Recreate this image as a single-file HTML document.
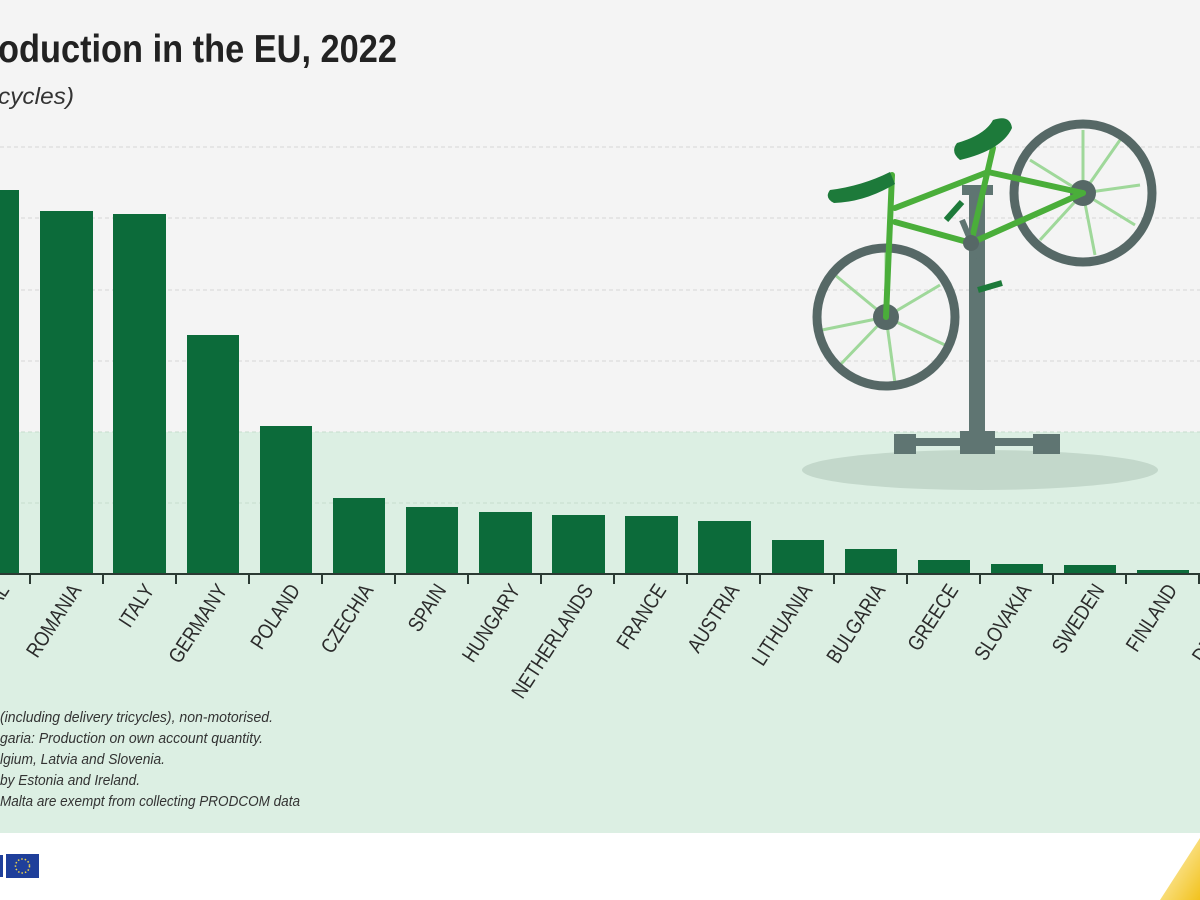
<!DOCTYPE html>
<html><head><meta charset="utf-8"><style>
html,body{margin:0;padding:0;width:1200px;height:900px;overflow:hidden;background:#fff}
svg{display:block}
</style></head><body>
<svg width="1200" height="900" xmlns="http://www.w3.org/2000/svg" font-family="'Liberation Sans',sans-serif">
<defs><linearGradient id="yg" x1="0" y1="0" x2="1" y2="1"><stop offset="0" stop-color="#fff6d0"/><stop offset="1" stop-color="#f2c21c"/></linearGradient></defs>
<rect x="0" y="0" width="1200" height="432" fill="#f4f4f4"/>
<rect x="0" y="432" width="1200" height="401" fill="#dcefe3"/>
<rect x="0" y="833" width="1200" height="67" fill="#ffffff"/>
<polygon points="1200,838 1200,900 1160,900" fill="url(#yg)"/>
<g stroke="#d6d6d6" stroke-width="1" stroke-dasharray="4,3">
<line x1="0" y1="147" x2="1200" y2="147"/><line x1="0" y1="218" x2="1200" y2="218"/>
<line x1="0" y1="290" x2="1200" y2="290"/><line x1="0" y1="361" x2="1200" y2="361"/>
<line x1="0" y1="432" x2="1200" y2="432" stroke="#c6dccd"/><line x1="0" y1="503" x2="1200" y2="503" stroke="#c6dccd"/>
</g>
<text x="-2" y="62" font-size="39" font-weight="bold" fill="#222" textLength="399" lengthAdjust="spacingAndGlyphs">oduction in the EU, 2022</text>
<text x="-2" y="104" font-size="23" font-style="italic" fill="#333" textLength="76" lengthAdjust="spacingAndGlyphs">cycles)</text>
<ellipse cx="980" cy="470" rx="178" ry="20" fill="#c3d8cb"/>
<rect x="969" y="185" width="16" height="255" fill="#5f7572"/>
<rect x="962" y="185" width="31" height="10" fill="#5f7572"/>
<rect x="895" y="438" width="165" height="8" fill="#5f7572"/>
<rect x="894" y="434" width="22" height="20" fill="#5f7572"/>
<rect x="960" y="431" width="35" height="23" fill="#5f7572"/>
<rect x="1033" y="434" width="27" height="20" fill="#5f7572"/>
<g stroke="#9fd89a" stroke-width="3">
<line x1="886" y1="317" x2="886" y2="250"/><line x1="886" y1="317" x2="940" y2="285"/><line x1="886" y1="317" x2="945" y2="345"/><line x1="886" y1="317" x2="895" y2="383"/><line x1="886" y1="317" x2="840" y2="365"/><line x1="886" y1="317" x2="822" y2="330"/><line x1="886" y1="317" x2="835" y2="275"/>
<line x1="1083" y1="193" x2="1083" y2="130"/><line x1="1083" y1="193" x2="1140" y2="185"/><line x1="1083" y1="193" x2="1135" y2="225"/><line x1="1083" y1="193" x2="1095" y2="255"/><line x1="1083" y1="193" x2="1040" y2="240"/><line x1="1083" y1="193" x2="1030" y2="160"/><line x1="1083" y1="193" x2="1120" y2="140"/>
</g>
<circle cx="886" cy="317" r="69" fill="none" stroke="#566866" stroke-width="9"/>
<circle cx="1083" cy="193" r="69" fill="none" stroke="#566866" stroke-width="9"/>
<circle cx="886" cy="317" r="13" fill="#566866"/>
<circle cx="1083" cy="193" r="13" fill="#566866"/>
<g stroke="#4aae3a" stroke-width="6" stroke-linecap="round" fill="none">
<line x1="892" y1="175" x2="886" y2="317"/>
<line x1="895" y1="208" x2="988" y2="172"/>
<line x1="895" y1="222" x2="971" y2="243"/>
<line x1="993" y1="148" x2="971" y2="243"/>
<line x1="988" y1="172" x2="1083" y2="193"/>
<line x1="971" y1="243" x2="1083" y2="193"/>
</g>
<line x1="962" y1="220" x2="978" y2="258" stroke="#5f7572" stroke-width="6"/>
<line x1="946" y1="220" x2="962" y2="202" stroke="#1d7a3a" stroke-width="6"/>
<line x1="978" y1="290" x2="1002" y2="283" stroke="#1d7a3a" stroke-width="6"/>
<circle cx="971" cy="243" r="8" fill="#566866"/>
<path d="M830,190 Q862,186 890,172 L895,184 Q865,202 834,203 Q824,198 830,190Z" fill="#1d7a3a"/>
<path d="M957,143 Q985,135 993,120 Q1010,114 1012,128 Q1002,150 960,160 Q950,152 957,143Z" fill="#1d7a3a"/>
<g fill="#0c6b3a">
<rect x="-34" y="190" width="53" height="384"/>
<rect x="40" y="211" width="53" height="363"/>
<rect x="113" y="214" width="53" height="360"/>
<rect x="187" y="335" width="52" height="239"/>
<rect x="260" y="426" width="52" height="148"/>
<rect x="333" y="498" width="52" height="76"/>
<rect x="406" y="507" width="52" height="67"/>
<rect x="479" y="512" width="53" height="62"/>
<rect x="552" y="515" width="53" height="59"/>
<rect x="625" y="516" width="53" height="58"/>
<rect x="698" y="521" width="53" height="53"/>
<rect x="772" y="540" width="52" height="34"/>
<rect x="845" y="549" width="52" height="25"/>
<rect x="918" y="560" width="52" height="14"/>
<rect x="991" y="564" width="52" height="10"/>
<rect x="1064" y="565" width="52" height="9"/>
<rect x="1137" y="570" width="52" height="4"/>
</g>
<line x1="0" y1="574" x2="1200" y2="574" stroke="#2b3a33" stroke-width="2"/>
<g stroke="#2b3a33" stroke-width="2">
<line x1="30" y1="574" x2="30" y2="584"/><line x1="103" y1="574" x2="103" y2="584"/><line x1="176" y1="574" x2="176" y2="584"/><line x1="249" y1="574" x2="249" y2="584"/><line x1="322" y1="574" x2="322" y2="584"/><line x1="395" y1="574" x2="395" y2="584"/><line x1="468" y1="574" x2="468" y2="584"/><line x1="541" y1="574" x2="541" y2="584"/><line x1="614" y1="574" x2="614" y2="584"/><line x1="687" y1="574" x2="687" y2="584"/><line x1="760" y1="574" x2="760" y2="584"/><line x1="834" y1="574" x2="834" y2="584"/><line x1="907" y1="574" x2="907" y2="584"/><line x1="980" y1="574" x2="980" y2="584"/><line x1="1053" y1="574" x2="1053" y2="584"/><line x1="1126" y1="574" x2="1126" y2="584"/><line x1="1199" y1="574" x2="1199" y2="584"/>
</g>
<g font-size="21" fill="#2b2b2b" text-anchor="end">
<text transform="translate(10,590) rotate(-57) scale(0.84,1)">PORTUGAL</text>
<text transform="translate(82,590) rotate(-57) scale(0.84,1)">ROMANIA</text>
<text transform="translate(155,590) rotate(-57) scale(0.84,1)">ITALY</text>
<text transform="translate(228,590) rotate(-57) scale(0.84,1)">GERMANY</text>
<text transform="translate(301,590) rotate(-57) scale(0.84,1)">POLAND</text>
<text transform="translate(374,590) rotate(-57) scale(0.84,1)">CZECHIA</text>
<text transform="translate(447,590) rotate(-57) scale(0.84,1)">SPAIN</text>
<text transform="translate(521,590) rotate(-57) scale(0.84,1)">HUNGARY</text>
<text transform="translate(594,590) rotate(-57) scale(0.84,1)">NETHERLANDS</text>
<text transform="translate(667,590) rotate(-57) scale(0.84,1)">FRANCE</text>
<text transform="translate(740,590) rotate(-57) scale(0.84,1)">AUSTRIA</text>
<text transform="translate(813,590) rotate(-57) scale(0.84,1)">LITHUANIA</text>
<text transform="translate(886,590) rotate(-57) scale(0.84,1)">BULGARIA</text>
<text transform="translate(959,590) rotate(-57) scale(0.84,1)">GREECE</text>
<text transform="translate(1032,590) rotate(-57) scale(0.84,1)">SLOVAKIA</text>
<text transform="translate(1105,590) rotate(-57) scale(0.84,1)">SWEDEN</text>
<text transform="translate(1178,590) rotate(-57) scale(0.84,1)">FINLAND</text>
<text transform="translate(1251,590) rotate(-57) scale(0.84,1)">DENMARK</text>
</g>
<g font-size="15" font-style="italic" fill="#333">
<text x="0" y="722" textLength="273" lengthAdjust="spacingAndGlyphs">(including delivery tricycles), non-motorised.</text>
<text x="0" y="743" textLength="263" lengthAdjust="spacingAndGlyphs">garia: Production on own account quantity.</text>
<text x="0" y="764" textLength="165" lengthAdjust="spacingAndGlyphs">lgium, Latvia and Slovenia.</text>
<text x="0" y="785" textLength="140" lengthAdjust="spacingAndGlyphs"> by Estonia and Ireland.</text>
<text x="0" y="806" textLength="300" lengthAdjust="spacingAndGlyphs"> Malta are exempt from collecting PRODCOM data</text>
</g>
<rect x="6" y="854" width="33" height="24" fill="#1f3f9a"/>
<circle cx="22.5" cy="866" r="7" fill="none" stroke="#f2d64a" stroke-width="1.5" stroke-dasharray="1.5,2"/>
<rect x="0" y="855" width="3" height="22" fill="#1f3f9a"/>
</svg>
</body></html>
